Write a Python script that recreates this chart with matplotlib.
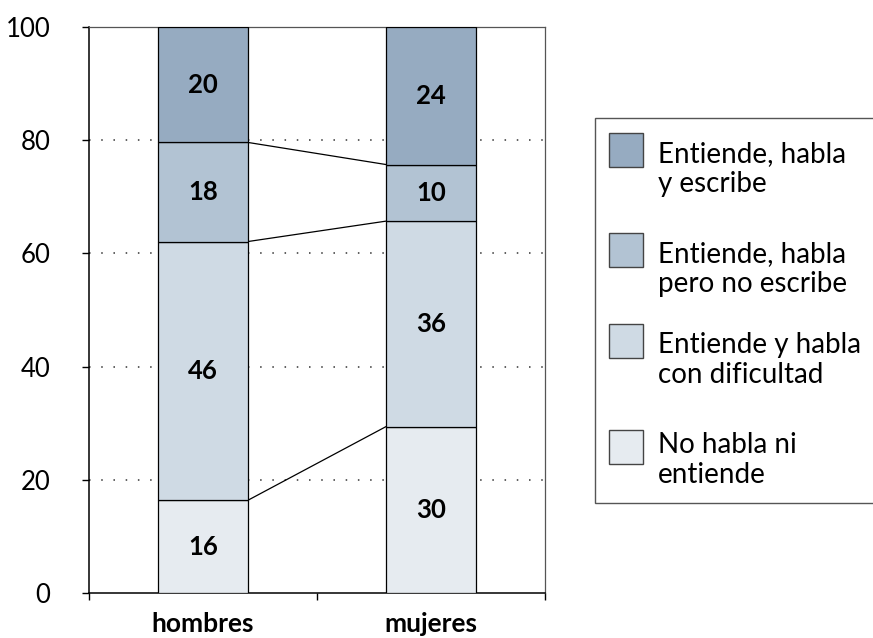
import matplotlib
matplotlib.use('Agg')
import matplotlib.pyplot as plt
from matplotlib.patches import Rectangle
import numpy as np

plt.rcParams['font.family'] = ['Lato', 'DejaVu Sans']

# data (percent of each group)
groups = ['hombres', 'mujeres']
series = ['No habla ni\nentiende',
          'Entiende y habla\ncon dificultad',
          'Entiende, habla\npero no escribe',
          'Entiende, habla\ny escribe']
hombres = [16.4, 45.7, 17.5, 20.4]
mujeres = [29.4, 36.3, 10.0, 24.3]
hombres_labels = ['16', '46', '18', '20']
mujeres_labels = ['30', '36', '10', '24']
colors = ['#e6ebf0', '#cfdae4', '#b2c3d3', '#96abc1']

values = np.array([hombres, mujeres])
labels = [hombres_labels, mujeres_labels]

fig = plt.figure(figsize=(8.73, 6.38), dpi=100)
ax = fig.add_axes([0.102, 0.0705, 0.5223, 0.8872])

x = np.arange(len(groups))
width = 0.395
bottom = np.zeros(len(groups))
for i in range(len(series)):
    ax.bar(x, values[:, i], width, bottom=bottom, color=colors[i],
           edgecolor='black', linewidth=0.9, zorder=3)
    for j in range(len(groups)):
        ax.text(x[j], bottom[j] + values[j, i] / 2, labels[j][i],
                ha='center', va='center', fontsize=18.5, fontweight='bold',
                zorder=4)
    bottom = bottom + values[:, i]
    # series lines between the two bars
    if i < len(series) - 1:
        ax.plot([x[0] + width / 2, x[1] - width / 2], [bottom[0], bottom[1]],
                color='black', linewidth=0.9, zorder=2)

ax.set_xlim(-0.5, 1.5)
ax.set_ylim(0, 100)
ax.set_yticks([0, 20, 40, 60, 80, 100])
ax.set_xticks(x)
ax.set_xticklabels(groups, fontsize=19, fontweight='bold')
ax.set_xticks([-0.5, 0.5, 1.5], minor=True)
ax.tick_params(axis='x', which='major', length=0, pad=14)
ax.tick_params(axis='x', which='minor', length=5, direction='out', width=1)
ax.tick_params(axis='y', length=5, direction='out', width=1, labelsize=18.5, pad=23)

for yy in [20, 40, 60, 80]:
    ax.axhline(yy, color='#333333', linewidth=1.1, linestyle=(0, (1, 7)), zorder=1)

for side in ['left', 'bottom']:
    ax.spines[side].set_linewidth(1.1)
for side in ['top', 'right']:
    ax.spines[side].set_linewidth(0.9)
    ax.spines[side].set_color('#555555')

# legend drawn by hand so the swatch sits on the first text line
W, H = 873, 638
def fx(px):
    return px / W
def fy(py):
    return 1 - py / H

fig.patches.append(Rectangle((fx(595), fy(503)), fx(300), fy(118) - fy(503),
                             transform=fig.transFigure, facecolor='white',
                             edgecolor='#555555', linewidth=1))
swatch_top = [133, 233, 324, 430]
baselines = [162, 262, 353, 453]
line_gap = 30
for k, i in enumerate(range(len(series) - 1, -1, -1)):
    fig.patches.append(Rectangle((fx(609), fy(swatch_top[k] + 34)), fx(34), fy(swatch_top[k]) - fy(swatch_top[k] + 34),
                                 transform=fig.transFigure, facecolor=colors[i],
                                 edgecolor='#444444', linewidth=1))
    for n, line in enumerate(series[i].split('\n')):
        fig.text(fx(658), fy(baselines[k] + n * line_gap), line, fontsize=20,
                 va='baseline', ha='left')

fig.savefig('out.png', dpi=100)
